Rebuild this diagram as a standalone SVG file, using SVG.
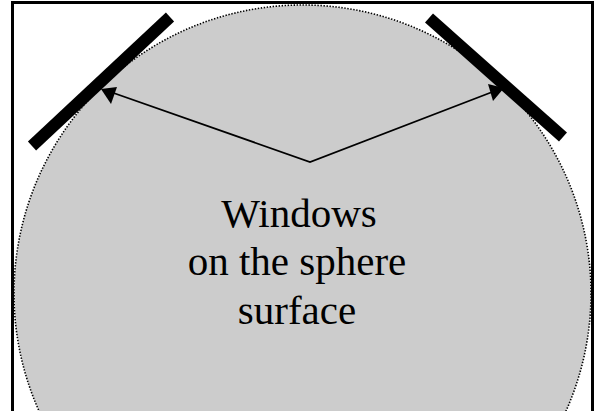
<svg xmlns="http://www.w3.org/2000/svg" width="595" height="411" viewBox="0 0 595 411">
<style>
.frame{fill:none;stroke:#000;stroke-width:3}
.sphere{fill:#cccccc;stroke:#000;stroke-width:1.6;stroke-dasharray:1.4 1.6}
.win{stroke:#000;stroke-width:12;stroke-linecap:butt}
.conn{fill:none;stroke:#000;stroke-width:1.8}
.lbl{font-family:"Liberation Serif","Times New Roman",serif;font-size:41px;fill:#000;text-anchor:middle}
</style>
<rect width="595" height="411" fill="#fff"/>
<g id="sphere">
<circle class="sphere" cx="302.5" cy="293.5" r="288.5"/>
</g>
<g id="window-left">
<line class="win" x1="32" y1="146" x2="170" y2="17"/>
</g>
<g id="window-right">
<line class="win" x1="429" y1="18" x2="563" y2="137"/>
</g>
<g id="connectors">
<polyline class="conn" points="105,90 310,162 500,89"/>
<path d="M101,89 L117,87 L111,104 z" fill="#000"/>
<path d="M504,88 L488,84 L493,101 z" fill="#000"/>
</g>
<g id="label">
<text class="lbl" x="299" y="227">Windows</text>
<text class="lbl" x="297" y="275">on the sphere</text>
<text class="lbl" x="297" y="324">surface</text>
</g>
<g id="frame">
<path class="frame" d="M12.5,411 V2.5 H592.5 V411"/>
</g>
</svg>
